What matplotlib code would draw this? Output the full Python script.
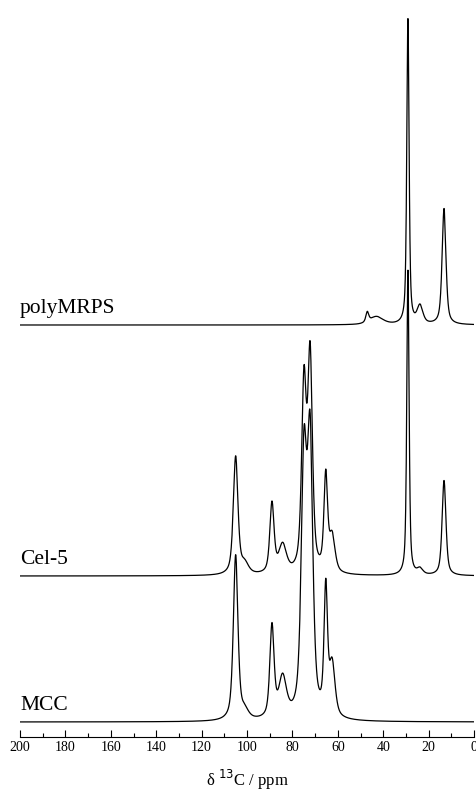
import numpy as np
import matplotlib.pyplot as plt

# peak tables: position (ppm), height, width (ppm)
poly_pos = [29.1, 13.2, 23.8, 47.0, 43.0]
poly_height = [305, 116, 18, 10, 8]
poly_width = [1.2, 2.0, 3.0, 1.5, 7.0]

cel_pos = [105.0, 101.0, 89.0, 84.3, 74.9, 72.2, 65.3, 62.5, 29.1, 23.8, 13.2]
cel_height = [118, 10, 70, 28, 185, 212, 95, 36, 305, 6, 95]
cel_width = [2.4, 4.0, 2.2, 4.0, 2.4, 2.4, 1.9, 3.0, 1.2, 3.0, 2.0]

mcc_pos = [105.0, 101.0, 89.0, 84.3, 74.9, 72.2, 65.3, 62.5]
mcc_height = [165, 8, 92, 40, 250, 268, 125, 52]
mcc_width = [2.4, 4.0, 2.2, 4.0, 2.8, 2.8, 1.8, 3.0]

labels = ['polyMRPS', 'Cel-5', 'MCC']
offsets = [412, 161, 15]
ticks = [200, 180, 160, 140, 120, 100, 80, 60, 40, 20, 0]


def spectrum(ppm, pos, height, width, eta=0.6):
    # pseudo-Voigt line shape for each peak
    y = np.zeros_like(ppm)
    for p, h, w in zip(pos, height, width):
        g = np.exp(-4 * np.log(2) * ((ppm - p) / w) ** 2)
        l = 1 / (1 + 4 * ((ppm - p) / w) ** 2)
        y += h * (eta * l + (1 - eta) * g)
    return y


ppm = np.linspace(0, 200, 4001)
curves = [spectrum(ppm, poly_pos, poly_height, poly_width),
          spectrum(ppm, cel_pos, cel_height, cel_width),
          spectrum(ppm, mcc_pos, mcc_height, mcc_width)]

fig = plt.figure(figsize=(4.77, 7.92), dpi=100)
ax = fig.add_axes([20 / 477, 55 / 792, 454 / 477, 737 / 792])

for curve, off, lab in zip(curves, offsets, labels):
    ax.plot(ppm, curve + off, color='black', lw=0.9)
    ax.text(0.0, off + 7, lab, transform=ax.get_yaxis_transform(), ha='left', va='bottom',
            fontsize=15.5, family='Liberation Serif')

ax.set_xlim(200, 0)
ax.set_ylim(0, 737)
for s in ['top', 'left', 'right']:
    ax.spines[s].set_visible(False)
ax.spines['bottom'].set_linewidth(0.8)
ax.set_yticks([])
ax.set_xticks(ticks)
ax.set_xticks(np.arange(10, 200, 20), minor=True)
ax.tick_params(axis='x', which='major', direction='in', length=5, width=0.8, pad=3)
ax.tick_params(axis='x', which='minor', direction='in', length=3, width=0.8)
for t in ax.get_xticklabels():
    t.set_family('Liberation Serif')
    t.set_fontsize(10)

ax.set_xlabel('δ $^{13}$C / ppm', fontsize=12, family='Liberation Serif', labelpad=10)

fig.savefig('out.png', dpi=100)
